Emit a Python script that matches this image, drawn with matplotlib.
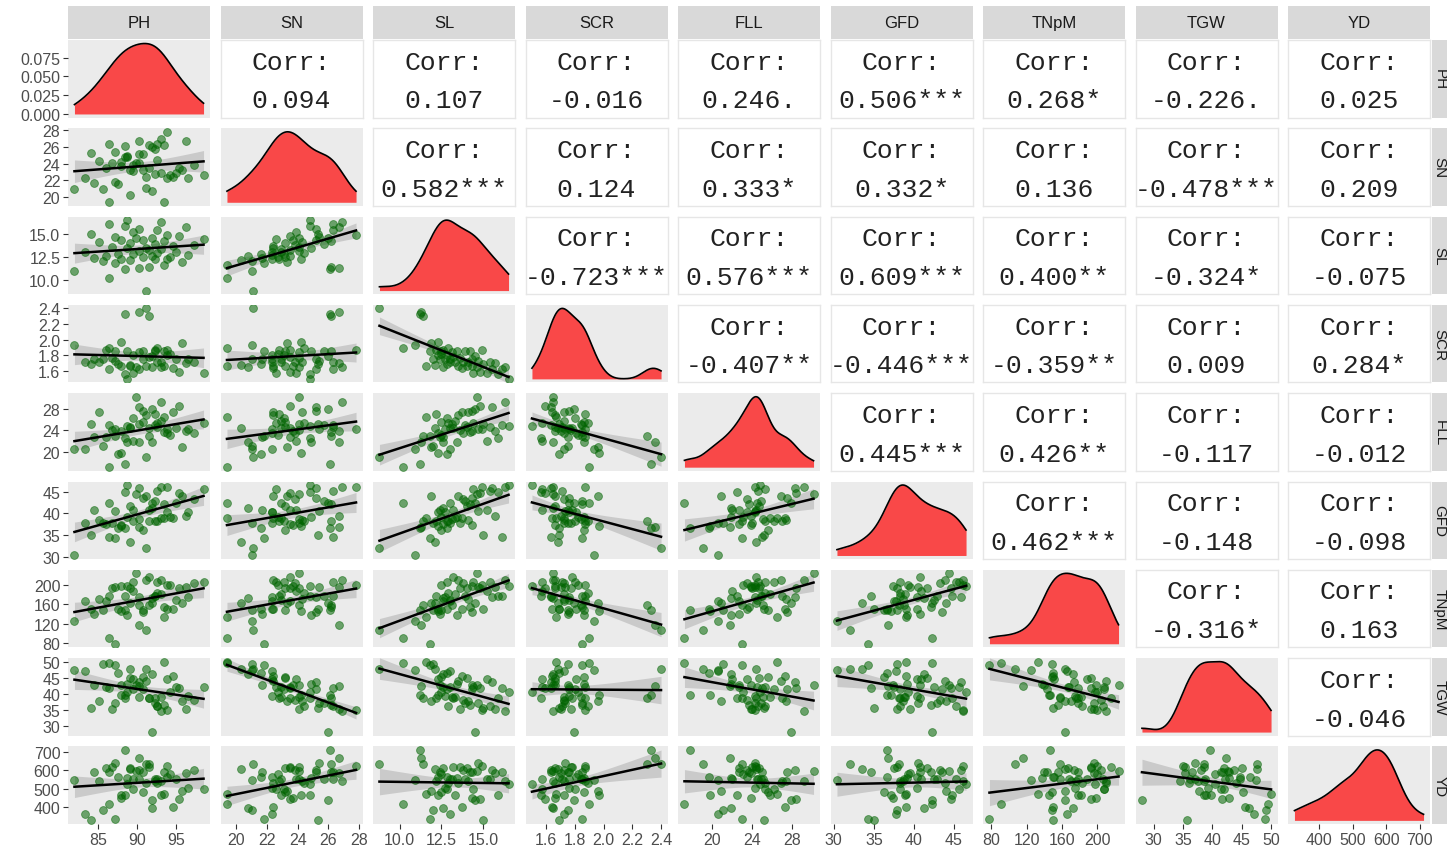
import numpy as np
import matplotlib
matplotlib.use("Agg")
import matplotlib.pyplot as plt

# plant traits, one value per line (54 lines)
PH = [91.1, 86.4, 82.0, 88.4, 90.3, 91.5, 93.4, 87.2, 95.8,
      85.6, 89.1, 92.3, 93.8, 88.0, 84.5, 94.2, 90.7, 91.9,
      86.0, 96.5, 89.5, 87.6, 92.6, 95.0, 83.3, 90.3, 91.5,
      93.0, 88.7, 91.1, 86.8, 94.6, 97.3, 92.3, 89.1, 85.2,
      93.4, 88.0, 90.7, 98.5, 91.9, 89.9, 87.2, 95.4, 93.8,
      84.1, 89.5, 92.6, 90.3, 96.2, 88.4, 86.4, 93.0, 88.7]
SN = [21.1, 19.4, 21.0, 26.1, 26.7, 26.2, 19.4, 21.8, 23.3,
      21.0, 20.3, 22.8, 22.3, 24.2, 21.7, 22.7, 23.2, 20.8,
      23.5, 22.3, 23.1, 21.6, 24.4, 22.9, 22.3, 24.1, 23.5,
      22.9, 24.9, 22.4, 24.1, 22.4, 23.8, 25.7, 23.2, 24.3,
      26.2, 23.7, 25.2, 22.6, 26.0, 24.1, 25.4, 23.5, 27.8,
      25.3, 23.9, 26.3, 25.2, 26.7, 24.8, 26.3, 26.9, 24.8]
SL = [8.8, 10.2, 10.9, 11.2, 11.3, 11.4, 11.6, 11.8, 11.9,
      12.0, 12.1, 12.2, 12.3, 12.3, 12.4, 12.5, 12.5, 12.6,
      12.6, 12.7, 12.8, 12.8, 12.9, 13.0, 13.0, 13.1, 13.2,
      13.3, 13.4, 13.5, 13.6, 13.7, 13.8, 13.9, 14.0, 14.1,
      14.2, 14.3, 14.3, 14.4, 14.5, 14.6, 14.7, 14.8, 14.9,
      15.0, 15.2, 15.4, 15.5, 15.7, 15.9, 16.1, 16.3, 16.5]
SCR = [2.40, 1.90, 1.93, 2.33, 2.36, 2.30, 1.67, 1.85, 1.96,
       1.75, 1.68, 1.87, 1.81, 1.97, 1.75, 1.82, 1.86, 1.65,
       1.87, 1.76, 1.80, 1.69, 1.89, 1.76, 1.72, 1.84, 1.78,
       1.72, 1.86, 1.66, 1.77, 1.64, 1.72, 1.85, 1.66, 1.72,
       1.85, 1.66, 1.76, 1.57, 1.79, 1.65, 1.73, 1.59, 1.87,
       1.69, 1.57, 1.71, 1.63, 1.70, 1.56, 1.63, 1.65, 1.50]
FLL = [19.1, 17.2, 20.6, 17.8, 21.8, 23.0, 26.5, 23.0, 20.9,
       21.1, 24.4, 27.0, 23.5, 19.8, 22.7, 23.1, 25.6, 21.9,
       22.7, 24.3, 26.2, 19.7, 25.3, 24.5, 20.6, 25.1, 24.4,
       25.8, 21.9, 26.9, 24.0, 27.3, 23.5, 24.9, 24.7, 27.4,
       23.7, 23.9, 27.5, 25.3, 27.9, 30.2, 24.3, 28.4, 24.3,
       25.2, 22.0, 24.6, 28.3, 23.9, 22.5, 25.0, 29.2, 24.8]
GFD = [32.0, 42.3, 30.4, 36.6, 36.8, 38.2, 39.0, 34.3, 44.0,
       37.9, 33.5, 38.3, 40.4, 37.1, 40.8, 39.2, 36.3, 41.3,
       37.5, 40.4, 38.3, 36.7, 38.3, 42.5, 37.8, 38.7, 40.8,
       38.9, 39.1, 43.9, 37.9, 39.0, 43.3, 42.9, 41.6, 38.6,
       42.1, 37.4, 43.5, 45.6, 42.3, 44.4, 40.5, 44.6, 46.1,
       35.0, 40.9, 45.2, 45.9, 39.5, 44.8, 34.7, 46.1, 46.5]
TNpM = [107, 91, 125, 147, 116, 158, 133, 78, 163,
        149, 163, 176, 151, 145, 140, 200, 149, 172,
        167, 175, 207, 150, 183, 168, 166, 158, 216,
        182, 137, 210, 193, 150, 204, 178, 193, 170,
        155, 198, 143, 207, 163, 224, 196, 193, 200,
        150, 188, 206, 174, 196, 178, 178, 210, 197]
TGW = [47.6, 49.5, 47.5, 39.6, 42.3, 38.6, 50.0, 48.9, 37.7,
       49.2, 47.6, 38.5, 44.7, 39.7, 42.8, 40.4, 45.3, 46.2,
       42.0, 39.3, 41.5, 46.4, 36.1, 42.1, 47.1, 38.8, 38.5,
       38.9, 42.9, 44.1, 35.3, 45.6, 38.0, 37.0, 45.0, 37.6,
       36.5, 42.8, 41.5, 42.0, 28.0, 42.6, 37.0, 41.7, 35.0,
       35.6, 44.7, 36.2, 43.7, 35.3, 38.6, 41.8, 34.5, 40.5]
YD = [634, 414, 547, 712, 670, 637, 472, 330, 486,
      384, 606, 540, 564, 463, 590, 581, 482, 392,
      611, 502, 495, 566, 532, 554, 361, 552, 616,
      467, 557, 528, 619, 397, 602, 551, 611, 541,
      589, 446, 593, 496, 438, 594, 639, 440, 623,
      325, 550, 550, 603, 584, 466, 588, 539, 524]

names = ["PH", "SN", "SL", "SCR", "FLL", "GFD", "TNpM", "TGW", "YD"]
data = [PH, SN, SL, SCR, FLL, GFD, TNpM, TGW, YD]

# upper triangle, row by row
corr_labels = [
    ["0.094", "0.107", "-0.016", "0.246.", "0.506***", "0.268*", "-0.226.", "0.025"],
    ["0.582***", "0.124", "0.333*", "0.332*", "0.136", "-0.478***", "0.209"],
    ["-0.723***", "0.576***", "0.609***", "0.400**", "-0.324*", "-0.075"],
    ["-0.407**", "-0.446***", "-0.359**", "0.009", "0.284*"],
    ["0.445***", "0.426**", "-0.117", "-0.012"],
    ["0.462***", "-0.148", "-0.098"],
    ["-0.316*", "0.163"],
    ["-0.046"],
]

ticks = [
    [85, 90, 95],
    [20, 22, 24, 26, 28],
    [10.0, 12.5, 15.0],
    [1.6, 1.8, 2.0, 2.2, 2.4],
    [20, 24, 28],
    [30, 35, 40, 45],
    [80, 120, 160, 200],
    [30, 35, 40, 45, 50],
    [400, 500, 600, 700],
]
tick_fmt = ["{:g}", "{:g}", "{:.1f}", "{:.1f}", "{:g}", "{:g}", "{:g}", "{:g}", "{:g}"]
dens_ticks = [0.0, 0.025, 0.05, 0.075]

W, H = 1447, 853
BG = "#EBEBEB"
SANS = "Liberation Sans"
MONO = "Liberation Mono"


def px_axes(fig, x, y, w, h, **kw):
    return fig.add_axes([x / W, 1 - (y + h) / H, w / W, h / H], **kw)


def kde(v, grid):
    v = np.asarray(v, float)
    n = len(v)
    q75, q25 = np.percentile(v, [75, 25])
    bw = 0.9 * min(v.std(ddof=1), (q75 - q25) / 1.34) * n ** -0.2
    z = (grid[:, None] - v[None, :]) / bw
    return np.exp(-0.5 * z ** 2).sum(axis=1) / (n * bw * np.sqrt(2 * np.pi))


def lims(v):
    lo, hi = min(v), max(v)
    pad = 0.05 * (hi - lo)
    return lo - pad, hi + pad


def lm_band(x, y, grid):
    x = np.asarray(x, float)
    y = np.asarray(y, float)
    n = len(x)
    b, a = np.polyfit(x, y, 1)
    fit = a + b * grid
    resid = y - (a + b * x)
    s = np.sqrt((resid ** 2).sum() / (n - 2))
    sxx = ((x - x.mean()) ** 2).sum()
    se = s * np.sqrt(1 / n + (grid - x.mean()) ** 2 / sxx)
    t = 2.007
    return fit, fit - t * se, fit + t * se


fig = plt.figure(figsize=(W / 100, H / 100), dpi=100)
fig.patch.set_facecolor("white")

n = len(names)
col_x = [68 + j * 152.5 for j in range(n)]
row_y = [41 + i * 88.3 for i in range(n)]
pw, ph = 142, 77.5

for i in range(n):
    for j in range(n):
        ax = px_axes(fig, col_x[j], row_y[i], pw, ph)
        ax.set_xlim(lims(data[j]))
        xv = np.asarray(data[j], float)
        if i == j:
            ax.set_facecolor(BG)
            grid = np.linspace(xv.min(), xv.max(), 300)
            d = kde(xv, grid)
            ax.fill_between(grid, 0, d, color="#F94848", lw=0)
            ax.plot(grid, d, color="black", lw=1.2)
            top = d.max()
            ax.set_ylim(-0.05 * top, 1.05 * top)
        elif i > j:
            ax.set_facecolor(BG)
            yv = np.asarray(data[i], float)
            ax.set_ylim(lims(data[i]))
            g = np.linspace(xv.min(), xv.max(), 100)
            fit, lo, hi = lm_band(xv, yv, g)
            ax.fill_between(g, lo, hi, color="#999999", alpha=0.4, lw=0)
            ax.scatter(xv, yv, s=32, color="#006400", alpha=0.55,
                       edgecolors="#006400", linewidths=0.6, zorder=3)
            ax.plot(g, fit, color="black", lw=1.8, zorder=4)
        else:
            ax.set_facecolor("white")
            ax.set_xlim(0, 1)
            ax.set_ylim(0, 1)
            ax.text(0.5, 0.72, "Corr:", ha="center", va="center",
                    family=MONO, fontsize=19, color="#222222")
            ax.text(0.5, 0.22, corr_labels[i][j - i - 1], ha="center", va="center",
                    family=MONO, fontsize=19, color="#222222")
        for sp in ax.spines.values():
            sp.set_visible(i < j)
            sp.set_color("#E6E6E6")
            sp.set_linewidth(1.0)

        ax.tick_params(length=3.5, width=0.8, color="#333333",
                       labelcolor="#4D4D4D", labelsize=11.5, pad=2)
        if i == n - 1:
            ax.set_xticks(ticks[j])
            ax.set_xticklabels([tick_fmt[j].format(t) for t in ticks[j]], family=SANS)
        else:
            ax.set_xticks([])
        if j == 0:
            if i == 0:
                ax.set_yticks(dens_ticks)
                ax.set_yticklabels(["{:.3f}".format(t) for t in dens_ticks], family=SANS)
            else:
                ax.set_yticks(ticks[i])
                ax.set_yticklabels([tick_fmt[i].format(t) for t in ticks[i]], family=SANS)
        else:
            ax.set_yticks([])

# facet strips along the top and the right side
for j in range(n):
    st = px_axes(fig, col_x[j], 7, pw, 33)
    st.set_facecolor("#D9D9D9")
    st.set_xticks([])
    st.set_yticks([])
    for sp in st.spines.values():
        sp.set_visible(False)
    st.text(0.5, 0.5, names[j], ha="center", va="center", family=SANS,
            fontsize=12, color="#1A1A1A", transform=st.transAxes)

for i in range(n):
    st = px_axes(fig, 1432, row_y[i], 33, ph)
    st.set_facecolor("#D9D9D9")
    st.set_xticks([])
    st.set_yticks([])
    for sp in st.spines.values():
        sp.set_visible(False)
    fig.text(1439.5 / W, 1 - (row_y[i] + ph / 2) / H, names[i], ha="center",
             va="center", family=SANS, fontsize=11, color="#1A1A1A", rotation=-90)

fig.savefig("out.png", dpi=100)
